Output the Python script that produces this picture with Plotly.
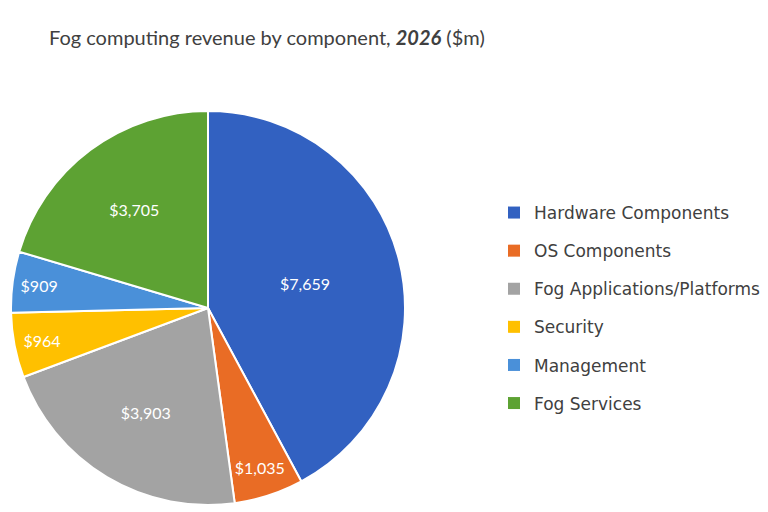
import plotly.graph_objects as go

categories = ["Hardware Components", "OS Components", "Fog Applications/Platforms",
              "Security", "Management", "Fog Services"]
values = [7659, 1035, 3903, 964, 909, 3705]
colors = ["#3261C1", "#E96C25", "#A3A3A3", "#FFC000", "#4A90D9", "#5DA233"]

labels_text = ["${:,}".format(v) for v in values]

fig = go.Figure()
fig.add_trace(go.Pie(
    labels=categories, values=values, text=labels_text,
    textinfo="text", textposition="inside", insidetextorientation="horizontal",
    sort=False, direction="clockwise", rotation=0,
    marker=dict(colors=colors, line=dict(color="white", width=2)),
    textfont=dict(family="Lato", size=16, color="white"),
    domain=dict(x=[2/768, 398/768], y=[15/512, 409/512]),
    showlegend=False,
))

# legend entries (one per category)
for i, (c, col) in enumerate(zip(categories, colors)):
    fig.add_trace(go.Scatter(
        x=[None], y=[None], mode="markers", name=c, legendgroup=c,
        marker=dict(symbol="square", size=8, color=col),
        showlegend=True,
    ))

fig.update_layout(
    width=768, height=512,
    margin=dict(l=0, r=0, t=0, b=0),
    paper_bgcolor="white", plot_bgcolor="white",
    title=dict(
        text="Fog computing revenue by component, <b><i>2026</i></b> ($m)",
        x=41/768, xanchor="left", y=1-30/512, yanchor="middle",
        xref="container", yref="container",
        font=dict(family="Lato", size=20, color="#404040"),
    ),
    xaxis=dict(visible=False),
    yaxis=dict(visible=False),
    legend=dict(
        x=486/768, xanchor="left", y=1-187/512, yanchor="top",
        font=dict(family="DejaVu Sans", size=17, color="#404040"),
        tracegroupgap=13, traceorder="grouped",
        itemsizing="constant", bgcolor="rgba(0,0,0,0)",
    ),
)

fig.write_html("out.html")
